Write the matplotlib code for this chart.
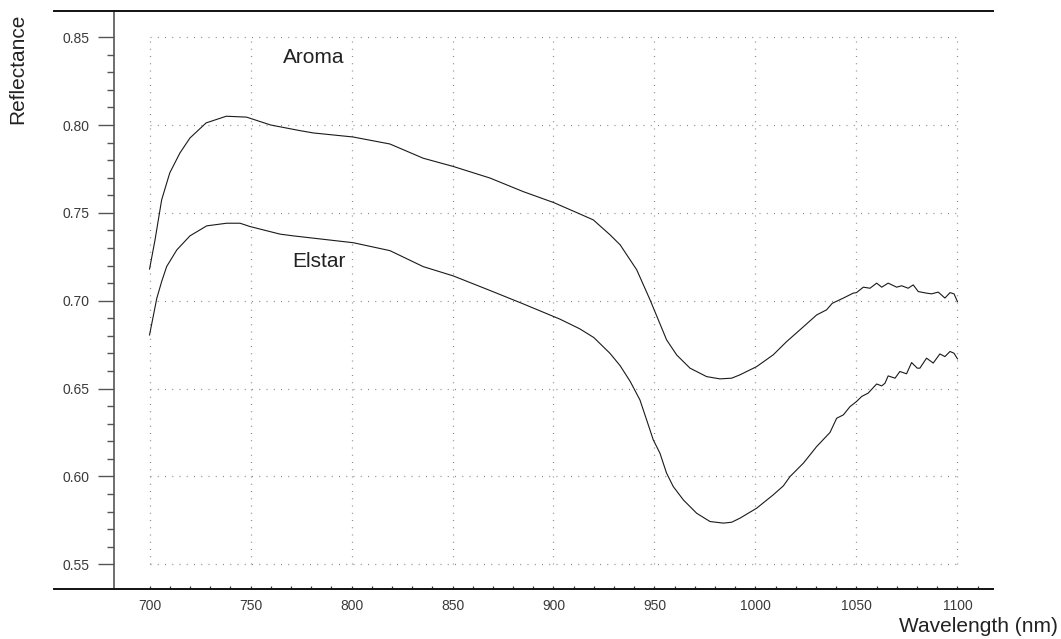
import matplotlib

matplotlib.use("Agg")
import matplotlib.pyplot as plt
import numpy as np

# values
aroma_nm = [700, 702.7, 706, 710, 715, 720, 728, 738, 748, 760, 774.5, 781, 800.7, 819,
            835.5, 850.4, 868.6, 885, 900, 913, 919.7, 928, 933, 941.2, 947.8, 956, 961,
            967.6, 975.8, 982.4, 988.2, 992.3, 1000.6, 1008.8, 1015.4, 1022, 1030.3, 1035.2,
            1038, 1043.5, 1048.4, 1050, 1053.4, 1056.7, 1060, 1062.5, 1065.7, 1069.9, 1072.4,
            1075.6, 1078.1, 1080.6, 1084.7, 1087.2, 1090.5, 1093.8, 1096.3, 1098.3, 1100]
aroma_refl = [0.718, 0.7345, 0.7574, 0.7727, 0.784, 0.7926, 0.8012, 0.805, 0.8045, 0.800,
              0.7968, 0.7955, 0.7932, 0.7892, 0.7811, 0.7764, 0.7698, 0.7621, 0.7559, 0.7494,
              0.746, 0.7375, 0.7318, 0.7176, 0.7005, 0.6777, 0.6691, 0.6616, 0.6568, 0.6555,
              0.6559, 0.6578, 0.6625, 0.6692, 0.6767, 0.6834, 0.6919, 0.6948, 0.6985, 0.7015,
              0.7043, 0.7046, 0.7077, 0.7071, 0.7100, 0.7077, 0.7100, 0.7077, 0.7085, 0.7071,
              0.7090, 0.7052, 0.7043, 0.7039, 0.7049, 0.7015, 0.7046, 0.7039, 0.6995]

elstar_nm = [700, 703.6, 706, 708.5, 713.5, 720, 728.3, 738.2, 744.8, 749.8, 764.6, 771.2,
             800.9, 819, 835.5, 850.4, 868.6, 885, 903.2, 913, 920, 928, 933, 938, 942.8,
             946.1, 949.4, 952.7, 956, 959.3, 964.3, 970.9, 977.5, 984.1, 988.2, 992.3,
             1000.6, 1008.8, 1013.8, 1017.1, 1023.7, 1030.3, 1036.9, 1040.2, 1043.5, 1046.8,
             1050, 1052.6, 1055.8, 1060, 1062.5, 1064.1, 1065.7, 1069.1, 1071.5, 1074.8,
             1077.3, 1080.1, 1081.4, 1084.7, 1088, 1091.3, 1093.8, 1096.3, 1098.3, 1100]
elstar_refl = [0.6805, 0.7014, 0.7109, 0.7195, 0.7289, 0.7369, 0.7426, 0.7441, 0.7441, 0.7422,
               0.7379, 0.7369, 0.733, 0.7285, 0.7194, 0.7141, 0.7058, 0.6982, 0.6895, 0.684,
               0.679, 0.670, 0.663, 0.654, 0.6435, 0.6322, 0.6208, 0.6132, 0.6018, 0.5942,
               0.5866, 0.579, 0.5743, 0.5734, 0.5739, 0.5762, 0.5819, 0.5895, 0.5946, 0.5999,
               0.6075, 0.617, 0.625, 0.6331, 0.635, 0.6397, 0.6426, 0.6455, 0.6474, 0.6526,
               0.6515, 0.653, 0.6572, 0.6559, 0.6597, 0.6584, 0.6648, 0.6616, 0.6616, 0.6673,
               0.6645, 0.6697, 0.6682, 0.6711, 0.6701, 0.6669]

x_major = np.arange(700, 1101, 50)
y_major = np.round(np.arange(0.55, 0.851, 0.05), 2)

plt.rcParams["font.family"] = ["Liberation Sans", "DejaVu Sans"]

fig = plt.figure(figsize=(10.61, 6.39), dpi=100)
ax = fig.add_axes([54 / 1061, 1 - 589 / 639, (993 - 54) / 1061, (589 - 11) / 639])
ax.set_xlim(652.7, 1117.6)
ax.set_ylim(0.5359, 0.8649)

# dotted grid only spans the data box, as in the reference
grid_kw = dict(color="#8a8a8a", linewidth=0.9, linestyle=(0, (0.8, 5.0)), zorder=1)
ax.vlines(x_major, y_major[0], y_major[-1], **grid_kw)
ax.hlines(y_major, x_major[0], x_major[-1], **grid_kw)

line_kw = dict(color="#1a1a1a", linewidth=0.8, zorder=3)
ax.plot(aroma_nm, aroma_refl, **line_kw)
ax.plot(elstar_nm, elstar_refl, **line_kw)

ax.text(781.5, 0.8385, "Aroma", fontsize=15, color="#222222", ha="center", va="center")
ax.text(784, 0.7222, "Elstar", fontsize=15, color="#222222", ha="center", va="center")

ax.spines["right"].set_visible(False)
ax.spines["left"].set_position(("data", 682.5))
ax.spines["left"].set_color("#555555")
ax.spines["left"].set_linewidth(1.2)
for side in ("top", "bottom"):
    ax.spines[side].set_linewidth(1.4)
    ax.spines[side].set_color("#111111")

ax.set_xticks(x_major)
ax.set_xticks(np.arange(700, 1111, 10), minor=True)
ax.set_yticks(y_major)
ax.set_yticks(np.round(np.arange(0.55, 0.851, 0.01), 2), minor=True)
ax.set_yticklabels([f"{v:.2f}" for v in y_major])
ax.tick_params(axis="x", which="both", direction="in", length=2.2, width=0.9,
               color="#333333", labelsize=10, labelcolor="#3a3a3a", pad=7)
ax.tick_params(axis="y", which="major", direction="out", length=11.5, width=1.0,
               color="#555555", labelsize=10, labelcolor="#3a3a3a", pad=6)
ax.tick_params(axis="y", which="minor", direction="out", length=5, width=1.0, color="#555555")

fig.text(18 / 1061, 1 - 69 / 639, "Reflectance", rotation=90, fontsize=15,
         color="#222222", ha="center", va="center")
fig.text(1058 / 1061, 1 - 626 / 639, "Wavelength (nm)", fontsize=15,
         color="#222222", ha="right", va="center")

fig.savefig("out.png", dpi=100)
